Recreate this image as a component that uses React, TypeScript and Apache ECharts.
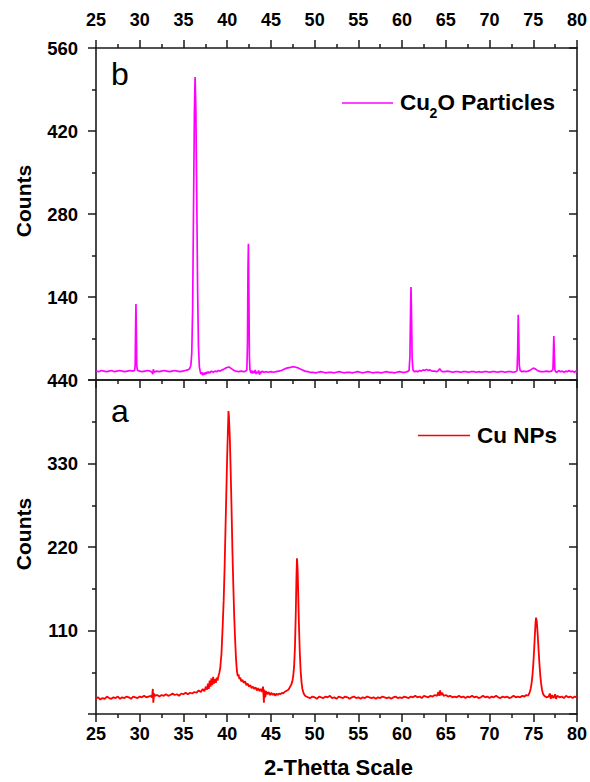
import { useEffect, useRef } from 'react';
import * as echarts from 'echarts';

// 2-theta range and tick settings
const thetaMin = 25;
const thetaMax = 80;
const thetaStep = 5;
const topCountsMax = 560;
const topCountsStep = 140;
const bottomCountsMax = 440;
const bottomCountsStep = 110;

// Panel b: Cu2O particles  [2-theta, counts]
const cu2oData: [number, number][] = [
  [25.0, 15], [25.3, 14], [25.6, 16], [25.9, 15], [26.2, 14], [26.5, 15], [26.8, 16], [27.1, 14], [27.4, 15],
  [27.7, 16], [28.0, 15], [28.3, 14], [28.6, 15], [28.9, 16], [29.2, 15], [29.4, 16], [29.48, 24], [29.53, 90],
  [29.57, 128], [29.61, 85], [29.66, 24], [29.75, 16], [30.0, 15], [30.3, 14], [30.6, 15], [30.9, 16], [31.2, 15],
  [31.4, 13], [31.5, 10], [31.55, 18], [31.65, 13], [31.9, 15], [32.2, 14], [32.5, 15], [32.8, 16], [33.1, 15],
  [33.4, 14], [33.7, 15], [34.0, 16], [34.3, 15], [34.6, 14], [34.9, 15], [35.2, 16], [35.5, 17], [35.7, 19],
  [35.85, 25], [35.95, 45], [36.05, 120], [36.15, 285], [36.25, 450], [36.33, 511], [36.42, 455], [36.52, 310],
  [36.62, 150], [36.72, 55], [36.82, 22], [36.92, 14], [37.0, 10], [37.1, 13], [37.2, 8], [37.3, 12], [37.4, 9],
  [37.5, 13], [37.6, 10], [37.7, 14], [37.8, 11], [37.9, 14], [38.0, 12], [38.2, 15], [38.4, 13], [38.6, 15],
  [38.8, 14], [39.0, 16], [39.2, 15], [39.4, 17], [39.6, 18], [39.8, 20], [40.0, 21], [40.2, 22], [40.4, 20],
  [40.6, 18], [40.8, 16], [41.0, 15], [41.3, 14], [41.6, 15], [41.9, 14], [42.1, 15], [42.25, 17], [42.32, 60],
  [42.38, 190], [42.43, 230], [42.48, 150], [42.54, 40], [42.6, 18], [42.7, 12], [42.8, 16], [42.9, 11], [43.0, 15],
  [43.1, 12], [43.2, 17], [43.3, 10], [43.4, 14], [43.5, 12], [43.6, 16], [43.7, 9], [43.8, 14], [43.9, 12],
  [44.0, 15], [44.2, 13], [44.4, 14], [44.7, 13], [45.0, 14], [45.3, 13], [45.6, 14], [45.9, 15], [46.2, 16],
  [46.5, 18], [46.8, 20], [47.1, 21], [47.4, 22], [47.7, 22], [48.0, 21], [48.3, 19], [48.6, 17], [48.9, 15],
  [49.2, 14], [49.5, 13], [49.8, 13], [50.1, 12], [50.4, 13], [50.7, 14], [51.0, 13], [51.3, 12], [51.6, 13],
  [51.9, 13], [52.2, 12], [52.5, 13], [52.8, 14], [53.1, 13], [53.4, 12], [53.7, 13], [54.0, 13], [54.3, 12],
  [54.6, 13], [54.9, 14], [55.2, 13], [55.5, 12], [55.8, 13], [56.1, 14], [56.4, 13], [56.7, 12], [57.0, 13],
  [57.3, 13], [57.6, 12], [57.9, 13], [58.2, 14], [58.5, 13], [58.8, 13], [59.1, 12], [59.4, 13], [59.7, 14],
  [60.0, 13], [60.3, 13], [60.6, 14], [60.8, 16], [60.9, 40], [60.97, 120], [61.02, 157], [61.08, 110],
  [61.15, 35], [61.25, 17], [61.4, 14], [61.6, 15], [61.8, 14], [62.0, 16], [62.2, 15], [62.4, 17], [62.6, 16],
  [62.8, 18], [63.0, 16], [63.2, 17], [63.4, 15], [63.7, 15], [64.0, 14], [64.15, 16], [64.3, 19], [64.45, 16],
  [64.6, 14], [64.9, 14], [65.2, 15], [65.5, 14], [65.8, 13], [66.1, 14], [66.4, 14], [66.7, 13], [67.0, 14],
  [67.3, 14], [67.6, 13], [67.9, 14], [68.2, 14], [68.5, 13], [68.8, 14], [69.1, 13], [69.4, 14], [69.7, 14],
  [70.0, 13], [70.3, 14], [70.6, 14], [70.9, 13], [71.2, 14], [71.5, 14], [71.8, 13], [72.1, 14], [72.4, 14],
  [72.7, 13], [73.0, 14], [73.15, 16], [73.22, 50], [73.28, 110], [73.34, 75], [73.4, 25], [73.5, 16], [73.7, 14],
  [73.9, 15], [74.1, 14], [74.4, 15], [74.7, 17], [75.0, 20], [75.2, 19], [75.4, 17], [75.6, 15], [75.9, 14],
  [76.2, 14], [76.5, 15], [76.8, 14], [77.1, 15], [77.25, 18], [77.3, 45], [77.35, 74], [77.4, 50], [77.46, 18],
  [77.55, 14], [77.7, 13], [77.9, 16], [78.1, 14], [78.3, 15], [78.5, 13], [78.7, 15], [78.9, 14], [79.1, 16],
  [79.3, 14], [79.5, 15], [79.7, 13], [79.85, 15], [80.0, 14],
];

// Panel a: Cu nanoparticles  [2-theta, counts]
const cuData: [number, number][] = [
  [25.0, 20], [25.25, 22], [25.5, 19], [25.75, 21], [26.0, 20], [26.25, 23], [26.5, 21], [26.75, 20], [27.0, 22],
  [27.25, 21], [27.5, 23], [27.75, 20], [28.0, 22], [28.25, 21], [28.5, 23], [28.75, 22], [29.0, 20], [29.25, 23],
  [29.5, 22], [29.75, 21], [30.0, 23], [30.25, 22], [30.5, 24], [30.75, 22], [31.0, 23], [31.25, 24], [31.4, 22],
  [31.5, 33], [31.55, 15], [31.65, 27], [31.75, 24], [32.0, 25], [32.25, 23], [32.5, 25], [32.75, 24], [33.0, 26],
  [33.25, 24], [33.5, 25], [33.75, 27], [34.0, 25], [34.25, 26], [34.5, 24], [34.75, 27], [35.0, 26], [35.25, 28],
  [35.5, 26], [35.75, 28], [36.0, 27], [36.25, 29], [36.5, 28], [36.75, 31], [37.0, 29], [37.2, 33], [37.4, 30],
  [37.55, 36], [37.7, 32], [37.8, 40], [37.9, 33], [38.0, 44], [38.1, 36], [38.2, 47], [38.3, 38], [38.4, 49],
  [38.5, 40], [38.6, 46], [38.7, 41], [38.8, 48], [38.9, 44], [39.0, 50], [39.1, 54], [39.2, 60], [39.35, 80],
  [39.5, 120], [39.6, 150], [39.7, 190], [39.8, 240], [39.9, 290], [40.0, 340], [40.1, 380], [40.15, 399],
  [40.2, 392], [40.3, 365], [40.4, 320], [40.5, 270], [40.6, 215], [40.7, 170], [40.8, 130], [40.9, 100],
  [41.0, 75], [41.1, 58], [41.2, 50], [41.3, 52], [41.4, 46], [41.5, 48], [41.6, 43], [41.75, 45], [41.9, 41],
  [42.05, 43], [42.2, 38], [42.35, 40], [42.5, 36], [42.65, 38], [42.8, 34], [42.95, 36], [43.1, 33], [43.25, 35],
  [43.4, 31], [43.55, 34], [43.7, 30], [43.85, 33], [44.0, 29], [44.1, 36], [44.2, 15], [44.25, 32], [44.35, 22],
  [44.45, 30], [44.6, 26], [44.75, 29], [44.9, 25], [45.05, 28], [45.2, 25], [45.35, 27], [45.5, 24], [45.65, 27],
  [45.8, 25], [45.95, 27], [46.1, 26], [46.25, 28], [46.4, 27], [46.55, 29], [46.7, 30], [46.85, 31], [47.0, 32],
  [47.15, 35], [47.3, 38], [47.45, 43], [47.55, 50], [47.65, 62], [47.75, 88], [47.85, 135], [47.92, 180],
  [47.98, 205], [48.05, 192], [48.12, 160], [48.2, 120], [48.3, 82], [48.4, 57], [48.5, 42], [48.6, 33],
  [48.75, 27], [48.9, 24], [49.05, 23], [49.25, 22], [49.5, 21], [49.75, 23], [50.0, 22], [50.25, 20], [50.5, 23],
  [50.75, 22], [51.0, 21], [51.25, 23], [51.5, 22], [51.75, 24], [52.0, 21], [52.25, 22], [52.5, 20], [52.75, 23],
  [53.0, 22], [53.25, 21], [53.5, 23], [53.75, 22], [54.0, 20], [54.25, 22], [54.5, 23], [54.75, 21], [55.0, 22],
  [55.25, 20], [55.5, 22], [55.75, 21], [56.0, 23], [56.25, 22], [56.5, 21], [56.75, 22], [57.0, 20], [57.25, 22],
  [57.5, 21], [57.75, 23], [58.0, 22], [58.25, 21], [58.5, 22], [58.75, 20], [59.0, 22], [59.25, 23], [59.5, 21],
  [59.75, 22], [60.0, 21], [60.25, 23], [60.5, 22], [60.75, 21], [61.0, 23], [61.25, 22], [61.5, 24], [61.75, 22],
  [62.0, 23], [62.25, 21], [62.5, 24], [62.75, 23], [63.0, 22], [63.25, 24], [63.5, 23], [63.75, 25], [64.0, 24],
  [64.15, 29], [64.25, 24], [64.35, 31], [64.45, 25], [64.6, 28], [64.75, 24], [65.0, 25], [65.25, 23], [65.5, 24],
  [65.75, 22], [66.0, 23], [66.25, 22], [66.5, 24], [66.75, 22], [67.0, 23], [67.25, 21], [67.5, 23], [67.75, 22],
  [68.0, 24], [68.25, 22], [68.5, 23], [68.75, 21], [69.0, 22], [69.25, 24], [69.5, 22], [69.75, 23], [70.0, 21],
  [70.25, 23], [70.5, 22], [70.75, 24], [71.0, 22], [71.25, 21], [71.5, 23], [71.75, 22], [72.0, 23], [72.25, 21],
  [72.5, 22], [72.75, 24], [73.0, 22], [73.25, 23], [73.5, 22], [73.75, 24], [74.0, 23], [74.2, 25], [74.4, 24],
  [74.5, 26], [74.6, 29], [74.7, 33], [74.8, 40], [74.9, 50], [75.0, 65], [75.1, 85], [75.2, 108], [75.27, 122],
  [75.32, 127], [75.4, 122], [75.5, 106], [75.6, 86], [75.7, 67], [75.8, 51], [75.9, 40], [76.0, 32], [76.1, 27],
  [76.25, 24], [76.5, 22], [76.75, 23], [76.9, 27], [77.0, 20], [77.15, 25], [77.3, 21], [77.5, 26], [77.6, 20],
  [77.75, 24], [78.0, 22], [78.25, 23], [78.5, 21], [78.75, 24], [79.0, 22], [79.25, 23], [79.5, 21], [79.75, 23],
  [80.0, 22],
];

const FONT = '"Liberation Sans", Arial, Helvetica, sans-serif';
const AXIS_COLOR = '#1a1a1a';
const MAGENTA = '#ff00ff';
const RED = '#ff0000';

function xAxisCfg(grid: number, position: 'top' | 'bottom', opts: { labels: boolean; ticks: boolean; inside: boolean; margin?: number }) {
  return {
    type: 'value',
    gridIndex: grid,
    position,
    min: thetaMin,
    max: thetaMax,
    interval: thetaStep,
    splitLine: { show: false },
    axisLine: { show: true, onZero: false, lineStyle: { color: AXIS_COLOR, width: 1.6 } },
    axisTick: { show: opts.ticks, inside: opts.inside, length: 8, lineStyle: { color: AXIS_COLOR, width: 1.5 } },
    minorTick: { show: opts.ticks, splitNumber: 2, length: 4, lineStyle: { color: AXIS_COLOR, width: 1.5 } },
    axisLabel: {
      show: opts.labels,
      margin: opts.margin ?? 10,
      color: '#000',
      fontFamily: FONT,
      fontWeight: 'bold',
      fontSize: 18,
    },
  };
}

function yAxisCfg(grid: number, position: 'left' | 'right', max: number, step: number, labels: boolean, inside: boolean) {
  return {
    type: 'value',
    gridIndex: grid,
    position,
    min: 0,
    max,
    interval: step,
    splitLine: { show: false },
    axisLine: { show: true, onZero: false, lineStyle: { color: AXIS_COLOR, width: 1.6 } },
    axisTick: { show: true, inside, length: 8, lineStyle: { color: AXIS_COLOR, width: 1.5 } },
    minorTick: { show: true, splitNumber: 2, length: 4, lineStyle: { color: AXIS_COLOR, width: 1.5 } },
    axisLabel: {
      show: labels,
      showMinLabel: false,
      margin: 18,
      color: '#000',
      fontFamily: FONT,
      fontWeight: 'bold',
      fontSize: 18.5,
    },
  };
}

export default function App() {
  const ref = useRef<HTMLDivElement>(null);

  useEffect(() => {
    if (!ref.current) return;
    const chart = echarts.init(ref.current, null, { renderer: 'svg' });
    const option = {
      animation: false,
      backgroundColor: '#ffffff',
      grid: [
        { left: 96, top: 48, width: 485, height: 332 },
        { left: 96, top: 380, width: 485, height: 334 },
      ],
      xAxis: [
        xAxisCfg(0, 'top', { labels: true, ticks: true, inside: false, margin: 19 }),
        xAxisCfg(0, 'bottom', { labels: false, ticks: false, inside: false }),
        xAxisCfg(1, 'bottom', { labels: true, ticks: true, inside: false, margin: 11 }),
        xAxisCfg(1, 'top', { labels: false, ticks: true, inside: true }),
      ],
      yAxis: [
        yAxisCfg(0, 'left', topCountsMax, topCountsStep, true, false),
        yAxisCfg(0, 'right', topCountsMax, topCountsStep, false, true),
        yAxisCfg(1, 'left', bottomCountsMax, bottomCountsStep, true, false),
        yAxisCfg(1, 'right', bottomCountsMax, bottomCountsStep, false, true),
      ],
      series: [
        {
          name: 'Cu2O Particles',
          type: 'line',
          xAxisIndex: 0,
          yAxisIndex: 0,
          data: cu2oData,
          showSymbol: false,
          silent: true,
          color: MAGENTA,
          lineStyle: { color: MAGENTA, width: 1.7 },
        },
        {
          name: 'Cu NPs',
          type: 'line',
          xAxisIndex: 2,
          yAxisIndex: 2,
          data: cuData,
          showSymbol: false,
          silent: true,
          color: RED,
          lineStyle: { color: RED, width: 1.8 },
        },
      ],
      graphic: [
        { type: 'text', x: 111, y: 74, style: { text: 'b', font: `normal 32px ${FONT}`, fill: '#000', align: 'left', verticalAlign: 'middle' } },
        { type: 'text', x: 111, y: 411, style: { text: 'a', font: `normal 32px ${FONT}`, fill: '#000', align: 'left', verticalAlign: 'middle' } },
        { type: 'text', x: 23, y: 201, rotation: Math.PI / 2, style: { text: 'Counts', font: `bold 21px ${FONT}`, fill: '#000', align: 'center', verticalAlign: 'middle' } },
        { type: 'text', x: 23, y: 534, rotation: Math.PI / 2, style: { text: 'Counts', font: `bold 21px ${FONT}`, fill: '#000', align: 'center', verticalAlign: 'middle' } },
        { type: 'text', x: 338.5, y: 767, style: { text: '2-Thetta Scale', font: `bold 22px ${FONT}`, fill: '#000', align: 'center', verticalAlign: 'middle' } },
        // legend b
        { type: 'line', shape: { x1: 342, y1: 103, x2: 393, y2: 103 }, style: { stroke: MAGENTA, lineWidth: 1.6 } },
        { type: 'text', x: 400, y: 102.5, style: { text: 'Cu', font: `bold 22.5px ${FONT}`, fill: '#000', align: 'left', verticalAlign: 'middle' } },
        { type: 'text', x: 429.5, y: 113, style: { text: '2', font: `bold 14px ${FONT}`, fill: '#000', align: 'left', verticalAlign: 'middle' } },
        { type: 'text', x: 437.5, y: 102.5, style: { text: 'O Particles', font: `bold 22.5px ${FONT}`, fill: '#000', align: 'left', verticalAlign: 'middle' } },
        // legend a
        { type: 'line', shape: { x1: 418, y1: 435.5, x2: 470, y2: 435.5 }, style: { stroke: RED, lineWidth: 1.6 } },
        { type: 'text', x: 477, y: 435.5, style: { text: 'Cu NPs', font: `bold 22.5px ${FONT}`, fill: '#000', align: 'left', verticalAlign: 'middle' } },
      ],
    };
    chart.setOption(option as any);
    return () => {
      chart.dispose();
    };
  }, []);

  return (
    <div
      ref={ref}
      style={{ position: 'fixed', left: 0, top: 0, width: 590, height: 782, background: '#fff' }}
    />
  );
}
